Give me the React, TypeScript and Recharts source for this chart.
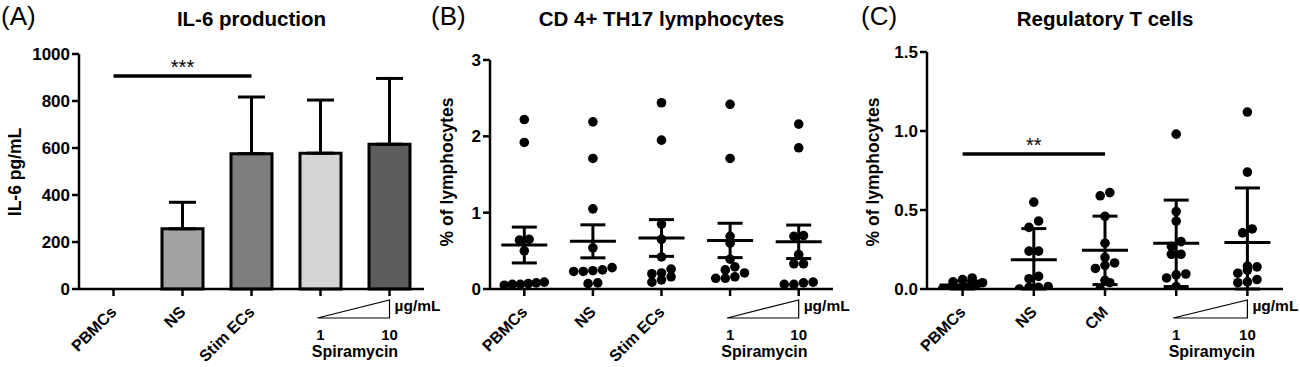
import React from "react";
import {
  Bar,
  BarChart,
  Cell,
  ErrorBar,
  ReferenceLine,
  Label,
  Scatter,
  ScatterChart,
  XAxis,
  YAxis,
} from "recharts";

// ---- data ----
const IL6_CATS = ["PBMCs", "NS", "Stim ECs", "1", "10"];
const IL6_MEAN = [0, 256, 576, 578, 616];
const IL6_SD = [10, 113, 241, 226, 280];
const IL6_COLORS = ["#ffffff", "#a3a3a3", "#7d7d7d", "#d4d4d4", "#5c5c5c"];

const TH17_CATS = ["PBMCs", "NS", "Stim ECs", "1", "10"];
const TH17_PBMC = [2.22, 1.92, 0.65, 0.64, 0.5, 0.09, 0.07, 0.08, 0.06, 0.05, 0.06];
const TH17_NS = [2.19, 1.71, 1.05, 0.54, 0.28, 0.25, 0.24, 0.23, 0.23, 0.08, 0.07];
const TH17_STIM = [2.44, 1.95, 0.85, 0.65, 0.42, 0.26, 0.21, 0.2, 0.16, 0.12, 0.09];
const TH17_S1 = [2.42, 1.71, 0.69, 0.6, 0.39, 0.29, 0.25, 0.21, 0.16, 0.14, 0.14];
const TH17_S10 = [2.16, 1.85, 0.7, 0.69, 0.45, 0.33, 0.33, 0.09, 0.08, 0.06, 0.06];

const TREG_CATS = ["PBMCs", "NS", "CM", "1", "10"];
const TREG_PBMC = [0.07, 0.06, 0.045, 0.04, 0.03, 0.02, 0.01, 0.005, 0, 0, 0];
const TREG_NS = [0.55, 0.43, 0.39, 0.24, 0.24, 0.08, 0.065, 0.015, 0.01, 0.01, 0];
const TREG_CM = [0.61, 0.59, 0.46, 0.29, 0.2, 0.165, 0.15, 0.13, 0.055, 0.04, 0];
const TREG_S1 = [0.98, 0.49, 0.43, 0.3, 0.27, 0.22, 0.22, 0.095, 0.09, 0.07, 0.015];
const TREG_S10 = [1.12, 0.74, 0.38, 0.355, 0.145, 0.14, 0.12, 0.1, 0.06, 0.045, 0.04];

const IL6_TICKS = [0, 200, 400, 600, 800, 1000];
const TH17_TICKS = [0, 1, 2, 3];
const TREG_TICKS = [0, 0.5, 1, 1.5];
const IL6_SIG = 906;
const TREG_SIG = 0.855;

// ---- layout ----
const FONT = '"Liberation Sans", Arial, Helvetica, sans-serif';
const H = 367;
const AXIS_Y = 289;
const DOT_R = 4.8;

const PANELS = [
  { left: 0, width: 430, plotLeft: 79, plotRight: 424, plotTop: 54, tag: "(A)", title: "IL-6 production", ylabel: "IL-6 pg/mL", ylabelX: 15 },
  { left: 430, width: 410, plotLeft: 490, plotRight: 833, plotTop: 60, tag: "(B)", title: "CD 4+ TH17 lymphocytes", ylabel: "% of lymphocytes", ylabelX: 447 },
  { left: 860, width: 440, plotLeft: 927, plotRight: 1283, plotTop: 52, tag: "(C)", title: "Regulatory T cells", ylabel: "% of lymphocytes", ylabelX: 873 },
];

const mean = (v: number[]) => v.reduce((a, b) => a + b, 0) / v.length;
const sd = (v: number[]) => {
  const m = mean(v);
  return Math.sqrt(v.reduce((a, b) => a + (b - m) * (b - m), 0) / (v.length - 1));
};

// rows of near-equal values are spread sideways, like a prism dot plot
function swarm(values: number[], pxPerUnit: number, maxHalf: number) {
  const d = DOT_R * 2;
  const order = values.map((_, i) => i).sort((a, b) => values[a] - values[b]);
  const dx = new Array(values.length).fill(0);
  let row: number[] = [];
  const flush = () => {
    const n = row.length;
    const step = n > 1 ? Math.min(d, (2 * maxHalf) / (n - 1)) : 0;
    row.forEach((k, j) => (dx[k] = (j - (n - 1) / 2) * step));
    row = [];
  };
  order.forEach((k) => {
    if (row.length && (values[k] - values[row[0]]) * pxPerUnit > d * 0.7) flush();
    row.push(k);
  });
  flush();
  return dx;
}

function buildGroups(groups: number[][], yMax: number, plotTop: number, useSd: boolean) {
  const ppu = (AXIS_Y - plotTop) / yMax;
  const points: { x: number; y: number; dx: number }[] = [];
  const summary: { x: number; y: number; err: number[] }[] = [];
  groups.forEach((vals, gi) => {
    const dx = swarm(vals, ppu, 20);
    vals.forEach((v, i) => points.push({ x: gi + 1, y: v, dx: dx[i] }));
    const m = mean(vals);
    const e = useSd ? sd(vals) : sd(vals) / Math.sqrt(vals.length);
    summary.push({ x: gi + 1, y: m, err: [Math.min(e, m), e] });
  });
  return { points, summary };
}

const il6Data = IL6_CATS.map((name, i) => ({ name, value: IL6_MEAN[i], err: [0, IL6_SD[i]] }));
const th17 = buildGroups([TH17_PBMC, TH17_NS, TH17_STIM, TH17_S1, TH17_S10], 3, PANELS[1].plotTop, false);
const treg = buildGroups([TREG_PBMC, TREG_NS, TREG_CM, TREG_S1, TREG_S10], 1.5, PANELS[2].plotTop, true);

const axisProps = {
  stroke: "#000",
  strokeWidth: 2.5,
  tickSize: 7,
  tickLine: { stroke: "#000", strokeWidth: 2.5 },
  axisLine: { stroke: "#000", strokeWidth: 2.5 },
};
const yTick = { fontSize: 17, fontWeight: "bold", fill: "#000", fontFamily: FONT };

const CatTick = (props: any) => {
  const { x, y, index, cats } = props;
  const label = cats[index];
  if (index >= 3) {
    return (
      <text x={x} y={y + 42} textAnchor="middle" fontSize={15} fontWeight="bold" fontFamily={FONT} fill="#000">
        {label}
      </text>
    );
  }
  return (
    <text
      transform={`translate(${x + 4},${y + 15}) rotate(-45)`}
      textAnchor="end"
      fontSize={16}
      fontWeight="bold"
      fontFamily={FONT}
      fill="#000"
    >
      {label}
    </text>
  );
};

const Dot = (p: any) => <circle cx={p.cx + p.payload.dx} cy={p.cy} r={DOT_R} fill="#000" />;
const MeanLine = (p: any) => (
  <line x1={p.cx - 23} x2={p.cx + 23} y1={p.cy} y2={p.cy} stroke="#000" strokeWidth={3} />
);

const sigLabel = (text: string) => (
  <Label value={text} position="top" offset={2} fontSize={20} fill="#000" fontFamily={FONT} />
);

const Il6Chart = () => {
  const p = PANELS[0];
  return (
    <BarChart
      width={p.width}
      height={H}
      data={il6Data}
      margin={{ top: p.plotTop, right: p.left + p.width - p.plotRight, bottom: 0, left: 0 }}
      barSize={41}
    >
      <XAxis dataKey="name" height={H - AXIS_Y} {...axisProps} interval={0} tick={(t: any) => <CatTick {...t} cats={IL6_CATS} />} />
      <YAxis width={p.plotLeft - p.left} domain={[0, 1000]} ticks={IL6_TICKS} {...axisProps} tick={yTick} />
      <ReferenceLine
        segment={[{ x: "PBMCs", y: IL6_SIG }, { x: "Stim ECs", y: IL6_SIG }]}
        stroke="#000"
        strokeWidth={3.5}
        label={sigLabel("***")}
      />
      <Bar dataKey="value" stroke="#000" strokeWidth={3} isAnimationActive={false}>
        {il6Data.map((d, i) => (
          <Cell key={d.name} fill={IL6_COLORS[i]} />
        ))}
        <ErrorBar dataKey="err" width={13.5} stroke="#000" strokeWidth={3} isAnimationActive={false} />
      </Bar>
    </BarChart>
  );
};

const DotChart: React.FC<{
  panel: (typeof PANELS)[number];
  data: ReturnType<typeof buildGroups>;
  cats: string[];
  yMax: number;
  ticks: number[];
  fmt: (v: number) => string;
  sig?: number;
}> = ({ panel, data, cats, yMax, ticks, fmt, sig }) => (
  <ScatterChart
    width={panel.width}
    height={H}
    margin={{ top: panel.plotTop, right: panel.left + panel.width - panel.plotRight, bottom: 0, left: 0 }}
  >
    <XAxis
      type="number"
      dataKey="x"
      domain={[0.5, 5.5]}
      ticks={[1, 2, 3, 4, 5]}
      height={H - AXIS_Y}
      {...axisProps}
      tick={(t: any) => <CatTick {...t} cats={cats} />}
    />
    <YAxis
      type="number"
      dataKey="y"
      width={panel.plotLeft - panel.left}
      domain={[0, yMax]}
      ticks={ticks}
      allowDataOverflow
      {...axisProps}
      tick={yTick}
      tickFormatter={fmt}
    />
    {sig !== undefined && (
      <ReferenceLine
        segment={[{ x: 1, y: sig }, { x: 3, y: sig }]}
        stroke="#000"
        strokeWidth={3.5}
        label={sigLabel("**")}
      />
    )}
    <Scatter data={data.points} shape={Dot} isAnimationActive={false} />
    <Scatter data={data.summary} shape={MeanLine} isAnimationActive={false}>
      <ErrorBar dataKey="err" direction="y" width={12.5} stroke="#000" strokeWidth={3} isAnimationActive={false} />
    </Scatter>
  </ScatterChart>
);

const Overlay = () => (
  <svg width={1300} height={H} style={{ position: "absolute", left: 0, top: 0, pointerEvents: "none" }} fontFamily={FONT}>
    {PANELS.map((p) => {
      const w = p.plotRight - p.plotLeft;
      const c4 = p.plotLeft + (w * 3.5) / 5;
      const c5 = p.plotLeft + (w * 4.5) / 5;
      return (
        <g key={p.tag}>
          <text x={p.left + 1} y={25} fontSize={26} fill="#000">
            {p.tag}
          </text>
          <text x={(p.plotLeft + p.plotRight) / 2} y={26} fontSize={20.5} fontWeight="bold" textAnchor="middle" fill="#000">
            {p.title}
          </text>
          <text
            transform={`translate(${p.ylabelX},172) rotate(-90)`}
            textAnchor="middle"
            dominantBaseline="central"
            fontSize={17.5}
            fontWeight="bold"
            fill="#000"
          >
            {p.ylabel}
          </text>
          <polygon points={`${c4 - 3},318 ${c5},300 ${c5},318`} fill="#fff" stroke="#000" strokeWidth={1.2} />
          <text x={c5 + 5} y={311} fontSize={15.5} fontWeight="bold" fill="#000">
            µg/mL
          </text>
          <text x={(c4 + c5) / 2} y={357} fontSize={16} fontWeight="bold" textAnchor="middle" fill="#000">
            Spiramycin
          </text>
        </g>
      );
    })}
  </svg>
);

export default function App() {
  return (
    <div style={{ position: "absolute", left: 0, top: 0, width: 1300, height: H, background: "#fff", fontFamily: FONT }}>
      <div style={{ position: "absolute", left: PANELS[0].left, top: 0 }}>
        <Il6Chart />
      </div>
      <div style={{ position: "absolute", left: PANELS[1].left, top: 0 }}>
        <DotChart panel={PANELS[1]} data={th17} cats={TH17_CATS} yMax={3} ticks={TH17_TICKS} fmt={(v) => String(v)} />
      </div>
      <div style={{ position: "absolute", left: PANELS[2].left, top: 0 }}>
        <DotChart
          panel={PANELS[2]}
          data={treg}
          cats={TREG_CATS}
          yMax={1.5}
          ticks={TREG_TICKS}
          fmt={(v) => v.toFixed(1)}
          sig={TREG_SIG}
        />
      </div>
      <Overlay />
    </div>
  );
}
